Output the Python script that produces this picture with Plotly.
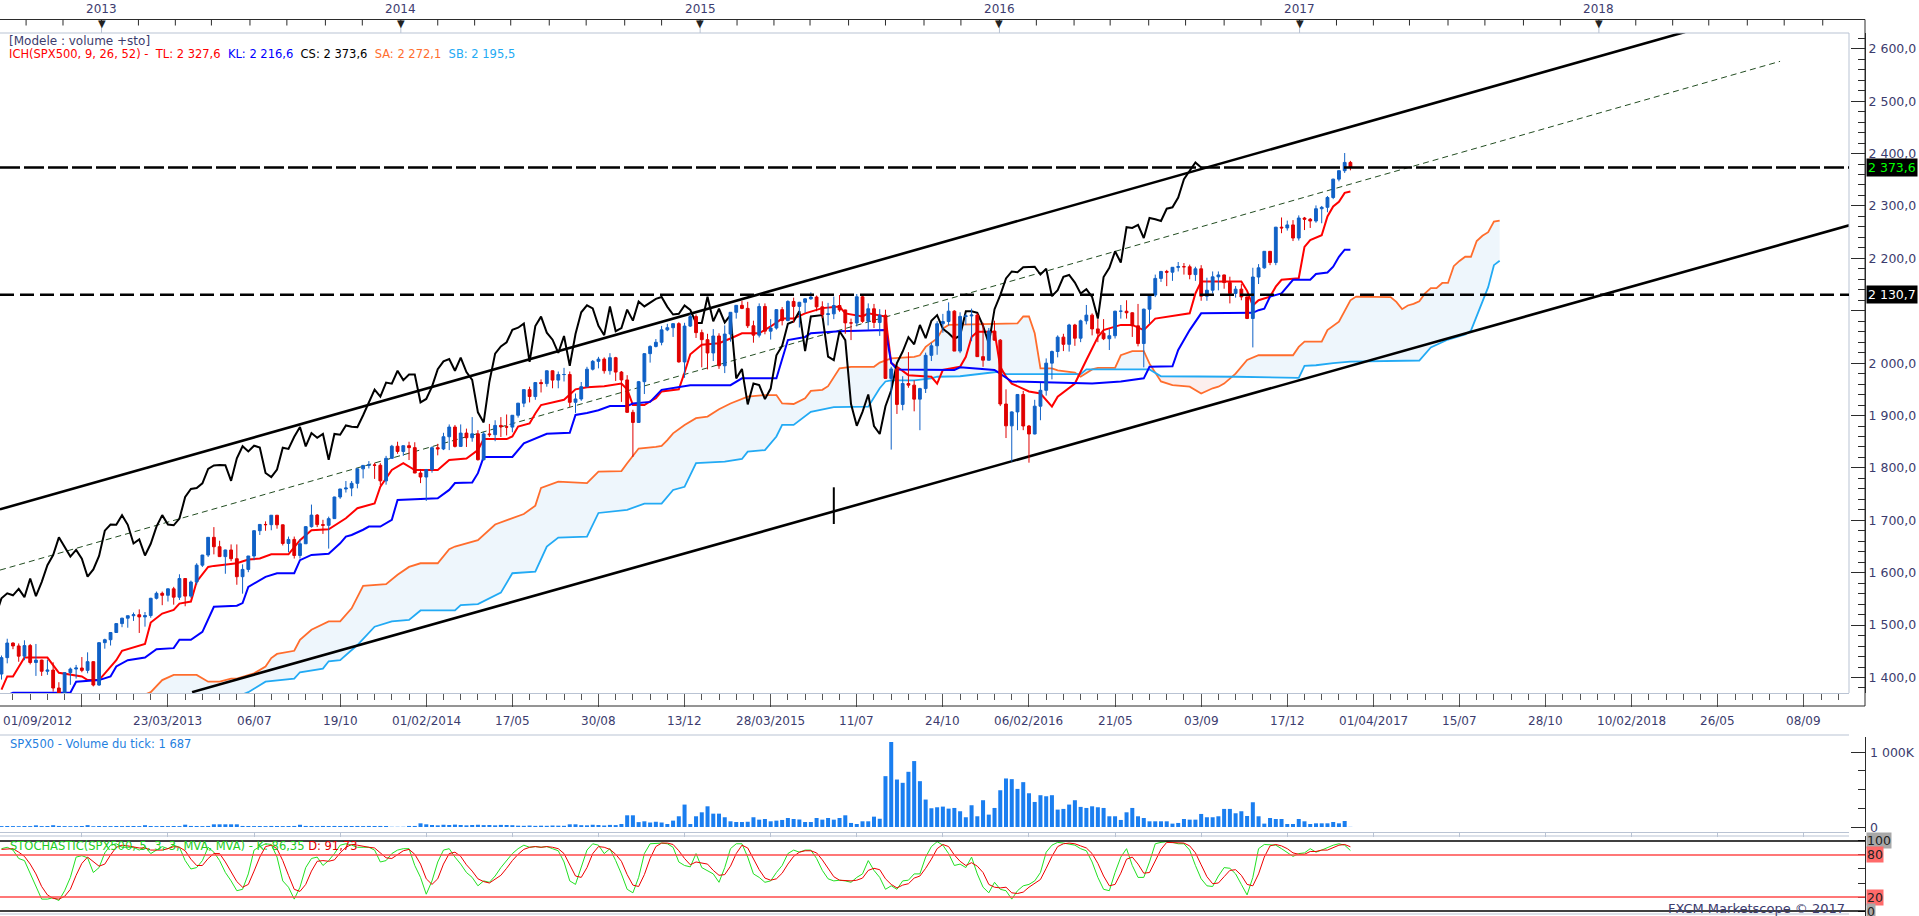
import plotly.graph_objects as go
import pandas as pd

# canvas + calibration (pixels of the 1919x916 screenshot)
W, H = 1919, 916
START = pd.Timestamp("2012-09-01")      # first weekly bar on screen


def wk(w):
    """date of weekly bar number w (may be fractional)"""
    return START + pd.Timedelta(days=7 * w)


def px(x):
    return x / W


def py(y):
    return 1 - y / H


# ─────────────────────────────────────────────
#  DATA  (weekly SPX500)
# ─────────────────────────────────────────────
first_open = 1406.6
closes = [
    1437.9, 1465.8, 1460.2, 1440.7, 1460.9, 1428.6, 1433.2, 1411.9, 1414.2, 1379.9,
    1359.9, 1409.2, 1416.2, 1418.1, 1413.6, 1430.2, 1385.6, 1466.5, 1472.1, 1485.9,
    1502.9, 1513.2, 1517.9, 1519.8, 1515.6, 1518.2, 1551.2, 1560.7, 1556.9, 1569.2,
    1553.3, 1588.9, 1555.3, 1582.2, 1614.4, 1633.7, 1667.5, 1649.6, 1630.7, 1643.4,
    1626.7, 1592.4, 1606.3, 1631.9, 1680.2, 1692.1, 1691.7, 1709.7, 1691.4, 1655.8,
    1663.5, 1632.9, 1655.2, 1687.9, 1709.9, 1691.8, 1690.5, 1703.2, 1744.5, 1759.8,
    1761.6, 1770.6, 1798.2, 1804.8, 1805.8, 1805.1, 1775.3, 1818.3, 1841.4, 1831.4,
    1842.4, 1838.7, 1790.3, 1782.6, 1797.0, 1838.6, 1836.2, 1859.5, 1878.0, 1841.1,
    1866.5, 1857.6, 1865.1, 1815.7, 1864.9, 1863.4, 1881.1, 1878.5, 1877.9, 1900.5,
    1923.6, 1949.4, 1936.2, 1962.9, 1960.9, 1985.4, 1967.6, 1978.2, 1978.3, 1925.2,
    1931.6, 1955.1, 1988.4, 2003.4, 2007.7, 1985.5, 2010.4, 1982.9, 1967.9, 1906.1,
    1886.8, 1964.6, 2018.1, 2031.9, 2039.8, 2063.5, 2067.6, 2075.4, 2002.3, 2070.7,
    2088.8, 2058.2, 2044.8, 2019.4, 2051.8, 1995.0, 2055.5, 2097.0, 2110.3, 2104.5,
    2071.3, 2053.4, 2108.1, 2061.0, 2067.0, 2102.1, 2081.2, 2117.7, 2108.3, 2116.1,
    2122.7, 2126.1, 2107.4, 2092.8, 2094.1, 2110.0, 2101.5, 2076.8, 2076.6, 2126.6,
    2079.7, 2103.8, 2077.6, 2091.5, 1970.9, 1988.9, 1921.2, 1961.1, 1958.0, 1931.3,
    1951.4, 2014.9, 2033.1, 2075.2, 2079.4, 2099.2, 2023.0, 2089.2, 2090.1, 2091.7,
    2012.4, 2005.6, 2061.0, 2043.9, 1922.0, 1880.3, 1906.9, 1940.2, 1880.0, 1864.8,
    1917.8, 1948.1, 2000.0, 2022.2, 2049.6, 2035.9, 2072.8, 2047.6, 2080.7, 2091.6,
    2065.3, 2057.1, 2046.6, 2052.3, 2099.1, 2099.1, 2096.1, 2071.2, 2037.4, 2103.0,
    2129.9, 2161.7, 2175.0, 2173.6, 2182.9, 2184.1, 2183.9, 2169.0, 2180.0, 2127.8,
    2139.2, 2164.7, 2168.3, 2153.7, 2133.0, 2141.2, 2126.4, 2085.2, 2164.4, 2181.9,
    2213.4, 2192.0, 2259.5, 2258.1, 2263.8, 2238.8, 2277.0, 2274.6, 2271.3, 2294.7,
    2297.4, 2316.1, 2351.2, 2367.3, 2383.1, 2373.6,
]
highs = [
    1442, 1474, 1467, 1465, 1471, 1464, 1464, 1434, 1434, 1429,
    1391, 1410, 1419, 1424, 1439, 1448, 1431, 1467, 1474, 1486,
    1503, 1514, 1518, 1524, 1530, 1525, 1552, 1564, 1564, 1570,
    1573, 1597, 1589, 1585, 1618, 1634, 1668, 1687, 1661, 1644,
    1654, 1654, 1616, 1632, 1681, 1693, 1698, 1710, 1710, 1692,
    1669, 1669, 1664, 1689, 1730, 1712, 1701, 1707, 1745, 1760,
    1775, 1775, 1799, 1805, 1813, 1810, 1809, 1823, 1844, 1850,
    1843, 1850, 1849, 1798, 1798, 1841, 1846, 1867, 1883, 1882,
    1883, 1875, 1897, 1872, 1869, 1884, 1891, 1897, 1902, 1901,
    1924, 1950, 1955, 1964, 1969, 1986, 1986, 1984, 1991, 1984,
    1942, 1964, 1993, 2006, 2012, 2011, 2019, 2012, 1985, 1977,
    1911, 1966, 2019, 2034, 2046, 2071, 2075, 2076, 2078, 2077,
    2094, 2093, 2064, 2056, 2065, 2057, 2072, 2097, 2111, 2119,
    2117, 2081, 2114, 2114, 2084, 2103, 2107, 2120, 2125, 2117,
    2124, 2135, 2129, 2118, 2115, 2127, 2130, 2102, 2085, 2132,
    2128, 2114, 2113, 2103, 2102, 1993, 1993, 1975, 2021, 1967,
    1953, 2020, 2039, 2080, 2094, 2116, 2101, 2097, 2094, 2104,
    2095, 2077, 2067, 2081, 2046, 1950, 1908, 1941, 1947, 1882,
    1930, 1962, 2009, 2024, 2053, 2056, 2075, 2075, 2083, 2111,
    2095, 2084, 2084, 2065, 2100, 2111, 2120, 2097, 2113, 2104,
    2132, 2169, 2176, 2178, 2183, 2193, 2191, 2188, 2184, 2187,
    2163, 2175, 2175, 2169, 2165, 2147, 2151, 2127, 2182, 2189,
    2214, 2214, 2260, 2278, 2272, 2273, 2282, 2279, 2277, 2301,
    2300, 2319, 2352, 2368, 2401, 2386,
]
lows = [
    1396, 1427, 1454, 1430, 1433, 1425, 1403, 1403, 1405, 1373,
    1343, 1352, 1386, 1398, 1410, 1408, 1383, 1384, 1455, 1461,
    1485, 1496, 1495, 1508, 1485, 1497, 1514, 1549, 1538, 1545,
    1539, 1548, 1536, 1552, 1577, 1611, 1630, 1635, 1630, 1598,
    1622, 1577, 1560, 1601, 1624, 1672, 1680, 1681, 1684, 1652,
    1639, 1627, 1627, 1655, 1686, 1687, 1674, 1646, 1703, 1741,
    1753, 1746, 1761, 1780, 1799, 1779, 1767, 1768, 1818, 1827,
    1823, 1815, 1790, 1771, 1737, 1791, 1824, 1834, 1834, 1839,
    1840, 1840, 1850, 1814, 1814, 1859, 1851, 1859, 1862, 1868,
    1896, 1916, 1925, 1930, 1944, 1955, 1952, 1952, 1965, 1916,
    1905, 1928, 1954, 1986, 1990, 1980, 1978, 1966, 1926, 1905,
    1821, 1886, 1941, 2001, 2030, 2034, 2061, 2050, 2001, 1972,
    2069, 2048, 1992, 1988, 2004, 1989, 1981, 2041, 2085, 2103,
    2067, 2039, 2049, 2055, 2045, 2064, 2072, 2080, 2077, 2068,
    2096, 2121, 2099, 2086, 2072, 2084, 2098, 2056, 2044, 2070,
    2077, 2063, 2067, 2052, 1970, 1835, 1903, 1910, 1953, 1908,
    1872, 1943, 2004, 2016, 2058, 2072, 2023, 2019, 2073, 2042,
    2012, 1993, 2005, 2043, 1918, 1857, 1812, 1872, 1872, 1810,
    1864, 1891, 1938, 1969, 2011, 2023, 2022, 2033, 2040, 2074,
    2053, 2040, 2044, 2025, 2047, 2085, 2085, 2050, 2032, 1992,
    2075, 2126, 2155, 2147, 2157, 2175, 2169, 2160, 2157, 2119,
    2119, 2133, 2139, 2142, 2114, 2125, 2120, 2084, 2030, 2151,
    2180, 2187, 2187, 2248, 2253, 2233, 2234, 2254, 2258, 2268,
    2267, 2288, 2313, 2347, 2363, 2368,
]
opens = [first_open] + closes[:-1]

# tick volume, thousands
volume_k = [
    12, 13, 12, 11, 13, 12, 22, 12, 13, 24,
    14, 12, 11, 12, 13, 25, 10, 13, 12, 12,
    13, 12, 14, 13, 12, 24, 13, 12, 13, 12,
    13, 12, 31, 14, 13, 12, 14, 36, 36, 36,
    36, 36, 14, 13, 12, 13, 12, 14, 13, 12,
    13, 14, 30, 14, 13, 12, 14, 13, 14, 13,
    14, 13, 14, 12, 14, 13, 14, 13, 3, 3,
    3, 14, 14, 49, 36, 27, 22, 30, 27, 32,
    27, 22, 27, 30, 25, 27, 22, 28, 27, 24,
    18, 16, 20, 15, 18, 16, 20, 18, 16, 36,
    36, 24, 22, 30, 26, 20, 28, 25, 40, 156,
    156, 65, 76, 60, 70, 60, 40, 85, 143, 299,
    40, 143, 196, 276, 178, 178, 130, 76, 67, 67,
    70, 130, 98, 107, 76, 85, 94, 120, 107, 100,
    67, 67, 120, 98, 120, 98, 120, 156, 54, 40,
    76, 76, 138, 110, 678, 1133, 633, 589, 736, 879,
    611, 366, 250, 263, 272, 245, 254, 210, 130, 290,
    143, 357, 165, 254, 490, 647, 638, 508, 598, 450,
    334, 424, 410, 424, 232, 241, 299, 357, 268, 254,
    276, 263, 254, 143, 143, 94, 196, 254, 143, 120,
    76, 76, 76, 76, 45, 54, 107, 98, 98, 174,
    130, 130, 143, 241, 241, 183, 210, 147, 330, 143,
    45, 120, 107, 107, 40, 40, 107, 76, 40, 49,
    49, 49, 67, 49, 80, 1.687,
]

stoch_k = [
    89, 91, 87, 75, 72, 53, 34, 17, 17, 19,
    15, 29, 48, 77, 79, 76, 55, 62, 83, 94,
    96, 91, 91, 91, 87, 92, 82, 87, 92, 89,
    94, 91, 72, 60, 62, 72, 91, 84, 72, 55,
    43, 29, 31, 53, 87, 92, 96, 95, 77, 43,
    34, 17, 34, 62, 75, 77, 65, 72, 82, 94,
    96, 94, 91, 91, 91, 87, 70, 72, 82, 87,
    89, 89, 65, 48, 24, 43, 70, 87, 89, 77,
    67, 55, 48, 36, 43, 41, 50, 62, 72, 82,
    89, 94, 91, 92, 91, 92, 89, 86, 70, 43,
    38, 62, 87, 96, 94, 82, 89, 72, 53, 31,
    26, 48, 82, 96, 97, 97, 96, 91, 70, 65,
    63, 82, 62, 58, 53, 41, 62, 89, 96, 96,
    77, 53, 48, 41, 43, 55, 65, 82, 87, 84,
    87, 87, 75, 58, 46, 43, 44, 43, 41, 48,
    53, 72, 58, 48, 31, 36, 31, 43, 44, 53,
    53, 77, 92, 99, 94, 82, 65, 67, 62, 77,
    53, 34, 26, 41, 31, 29, 17, 29, 36, 38,
    43, 55, 84, 94, 98, 97, 96, 94, 89, 86,
    70, 48, 31, 29, 55, 77, 89, 65, 48, 48,
    70, 96, 98, 99, 98, 96, 96, 87, 65, 46,
    36, 35, 50, 62, 61, 53, 38, 23, 48, 89,
    95, 95, 94, 89, 83, 78, 82, 83, 89, 84,
    87, 91, 94, 96, 94, 86.35,
]
stoch_d = [
    88, 89, 89, 84, 78, 67, 53, 35, 23, 18,
    17, 21, 31, 51, 68, 77, 70, 64, 67, 80,
    91, 94, 93, 91, 90, 90, 87, 87, 87, 89,
    92, 91, 86, 74, 65, 65, 75, 82, 82, 70,
    57, 42, 34, 38, 57, 77, 92, 94, 89, 72,
    51, 31, 28, 38, 57, 71, 72, 71, 73, 83,
    91, 95, 94, 92, 91, 90, 83, 76, 75, 80,
    86, 88, 81, 67, 46, 38, 46, 67, 82, 84,
    78, 66, 57, 46, 42, 40, 45, 51, 61, 72,
    81, 88, 91, 92, 91, 92, 91, 89, 82, 66,
    50, 48, 62, 82, 92, 91, 88, 81, 71, 52,
    37, 35, 52, 75, 92, 97, 97, 95, 86, 75,
    66, 70, 69, 67, 58, 51, 52, 64, 82, 94,
    90, 75, 59, 47, 44, 46, 54, 67, 78, 84,
    86, 86, 83, 73, 60, 49, 44, 43, 43, 44,
    47, 58, 61, 59, 46, 38, 33, 37, 39, 47,
    50, 61, 74, 89, 95, 92, 80, 71, 65, 69,
    64, 55, 38, 34, 33, 34, 26, 25, 27, 34,
    39, 45, 61, 78, 92, 96, 97, 96, 93, 90,
    82, 68, 50, 36, 38, 54, 74, 77, 67, 54,
    55, 71, 88, 98, 98, 98, 97, 93, 83, 66,
    49, 39, 40, 49, 58, 59, 51, 38, 36, 53,
    77, 93, 95, 93, 89, 83, 81, 81, 85, 85,
    87, 87, 91, 94, 95, 91.73,
]

# Ichimoku lines, read as (bar number, value) points
tl_idx = [0, 1, 2, 4, 8, 10, 14, 15, 17, 18, 20, 21, 25, 26, 28, 30, 31, 33, 34, 36,
          37, 41, 43, 45, 47, 50, 52, 54, 57, 60, 62, 65, 66, 68, 70, 72, 76, 78, 81, 83,
          84, 88, 89, 90, 92, 93, 94, 98, 100, 102, 105, 108, 109, 110, 112, 113, 114, 115, 118, 119,
          120, 122, 125, 127, 129, 132, 134, 136, 138, 140, 143, 146, 147, 150, 151, 154, 155, 156, 158, 162,
          163, 164, 167, 168, 169, 170, 173, 174, 175, 176, 179, 181, 183, 184, 187, 189, 191, 192, 195, 197,
          199, 201, 205, 207, 208, 209, 216, 217, 218, 219, 221, 222, 223, 226, 227, 228, 230, 231, 232, 233,
          234, 235]
tl_val = [1377, 1402, 1402, 1438, 1438, 1409, 1402, 1395, 1395, 1408, 1433, 1451, 1464, 1505, 1522, 1529, 1541, 1545, 1583, 1611,
          1613, 1618, 1625, 1627, 1635, 1635, 1662, 1681, 1683, 1704, 1723, 1732, 1764, 1796, 1809, 1796, 1796, 1815, 1818, 1834,
          1855, 1855, 1860, 1879, 1885, 1904, 1920, 1930, 1950, 1954, 1956, 1961, 1950, 1920, 1920, 1927, 1933, 1946, 1950, 1982,
          2017, 2035, 2038, 2047, 2057, 2057, 2070, 2085, 2085, 2095, 2105, 2108, 2095, 2089, 2095, 2089, 2000, 1993, 1977, 1974,
          1961, 1987, 1993, 2012, 2050, 2060, 2060, 1993, 1974, 1961, 1946, 1942, 1917, 1936, 1961, 2006, 2050, 2063, 2073, 2073,
          2063, 2085, 2092, 2095, 2133, 2156, 2156, 2138, 2110, 2120, 2127, 2146, 2159, 2162, 2222, 2235, 2244, 2280, 2299, 2308,
          2325, 2327.6]

kl_idx = [0, 1, 2, 12, 13, 17, 19, 20, 22, 25, 27, 30, 31, 33, 35, 36, 37, 41, 42, 43,
          46, 48, 51, 52, 54, 57, 59, 60, 61, 63, 64, 66, 68, 69, 76, 78, 79, 82, 83, 84,
          89, 91, 93, 95, 99, 100, 102, 104, 106, 109, 110, 113, 115, 120, 127, 129, 135, 136, 137, 140,
          141, 146, 154, 155, 156, 166, 167, 173, 174, 176, 190, 195, 199, 200, 204, 205, 207, 209, 218, 219,
          220, 221, 223, 225, 228, 229, 231, 232, 233, 234, 235]
kl_val = [1350, 1366, 1371, 1371, 1392, 1395, 1402, 1421, 1433, 1438, 1454, 1456, 1472, 1472, 1487, 1510, 1535, 1537, 1542, 1573,
          1592, 1599, 1599, 1624, 1634, 1636, 1656, 1669, 1672, 1682, 1688, 1688, 1701, 1739, 1742, 1758, 1771, 1772, 1790, 1821,
          1821, 1847, 1856, 1865, 1867, 1901, 1905, 1910, 1918, 1918, 1923, 1926, 1949, 1958, 1958, 1971, 1971, 2006, 2044, 2050,
          2057, 2061, 2063, 2001, 1988, 1987, 1992, 1987, 1980, 1965, 1961, 1965, 1971, 1993, 1994, 2025, 2063, 2095, 2096, 2101,
          2104, 2127, 2133, 2159, 2159, 2170, 2173, 2184, 2203, 2216.6, 2216.6]

sa_idx = [20, 26, 28, 30, 34, 36, 38, 40, 41, 44, 46, 47, 48, 51, 52, 54, 57, 59, 61, 63,
          67, 69, 71, 73, 76, 78, 79, 83, 86, 89, 91, 93, 94, 97, 99, 102, 104, 108, 109, 111,
          114, 115, 116, 117, 119, 121, 123, 125, 127, 130, 133, 135, 136, 138, 140, 141, 143, 144, 146, 148,
          152, 153, 155, 159, 160, 161, 163, 164, 165, 172, 174, 177, 178, 179, 180, 181, 183, 184, 187, 188,
          190, 191, 194, 195, 197, 199, 200, 202, 204, 207, 209, 211, 212, 213, 215, 217, 219, 225, 226, 227,
          230, 231, 233, 234, 235, 236, 242, 243, 244, 245, 246, 247, 248, 249, 250, 251, 252, 253, 254, 255,
          256, 257, 258, 259, 260, 261]
sa_val = [1345, 1372, 1395, 1405, 1405, 1392, 1392, 1398, 1398, 1408, 1421, 1437, 1445, 1451, 1472, 1491, 1507, 1507, 1532, 1575,
          1578, 1596, 1611, 1618, 1618, 1645, 1650, 1662, 1692, 1704, 1712, 1728, 1762, 1774, 1773, 1771, 1793, 1794, 1809, 1837,
          1840, 1842, 1853, 1866, 1882, 1895, 1898, 1912, 1923, 1936, 1939, 1939, 1923, 1922, 1933, 1947, 1949, 1956, 1990, 1993,
          1993, 2001, 2009, 2012, 2015, 2031, 2047, 2066, 2073, 2075, 2076, 2076, 2089, 2089, 2057, 1990, 1990, 1986, 1982, 1974,
          1988, 1991, 1991, 2015, 2023, 2023, 1999, 1965, 1958, 1955, 1942, 1952, 1955, 1961, 1980, 2006, 2015, 2015, 2031, 2041,
          2041, 2063, 2079, 2101, 2120, 2127, 2126, 2117, 2103, 2110, 2113, 2118, 2133, 2143, 2143, 2153, 2153, 2185, 2195, 2203,
          2203, 2233, 2243, 2250, 2270, 2272.1]

sb_idx = [38, 43, 46, 51, 52, 56, 57, 59, 62, 65, 68, 71, 73, 79, 80, 83, 87, 89, 93, 95,
          97, 102, 104, 109, 112, 115, 117, 119, 121, 126, 129, 130, 133, 135, 136, 138, 141, 145, 151, 153,
          154, 155, 159, 162, 163, 167, 174, 175, 188, 189, 200, 202, 215, 226, 227, 229, 232, 235, 247, 249,
          252, 255, 256, 258, 259, 260, 261]
sb_val = [1350, 1372, 1392, 1398, 1410, 1417, 1431, 1433, 1462, 1497, 1507, 1510, 1528, 1528, 1538, 1540, 1562, 1599, 1602, 1650,
          1667, 1669, 1714, 1720, 1732, 1732, 1758, 1764, 1809, 1812, 1817, 1831, 1834, 1860, 1882, 1882, 1907, 1916, 1917, 1952,
          1965, 1967, 1967, 1971, 1974, 1975, 1984, 1979, 1979, 1988, 1988, 1975, 1974, 1972, 1995, 1996, 2000, 2003, 2005, 2030,
          2045, 2055, 2062, 2118, 2145, 2187, 2195.5]

bear_cloud = (200, 215)          # stretch where SA sits under SB
chikou_shift = 26

# hand-drawn objects (bar number, price)
channel_upper = ([-0.26, 293.3], [1721, 2632])
channel_lower = ([33.2, 321.9], [1372, 2263])
channel_mid = ([-0.26, 309.85], [1605, 2576])
level_current = 2373.6
level_support = 2130.7
cursor_bar, cursor_lo, cursor_hi = 145, 1693, 1763

# axis text
price_ticks = [1400, 1500, 1600, 1700, 1800, 1900, 2000, 2100, 2200, 2300, 2400, 2500, 2600]
price_tick_text = ["1 400,0", "1 500,0", "1 600,0", "1 700,0", "1 800,0", "1 900,0", "2 000,0",
                   "", "2 200,0", "2 300,0", "2 400,0", "2 500,0", "2 600,0"]
date_label_bars = [0, 29, 44, 59, 74, 89, 104, 119, 134, 149, 164, 179, 194, 209, 224,
                   239, 254, 269, 284, 299, 314]
date_label_text = ["01/09/2012", "23/03/2013", "06/07", "19/10", "01/02/2014", "17/05", "30/08",
                   "13/12", "28/03/2015", "11/07", "24/10", "06/02/2016", "21/05", "03/09",
                   "17/12", "01/04/2017", "15/07", "28/10", "10/02/2018", "26/05", "08/09"]
years = [2013, 2014, 2015, 2016, 2017, 2018]

# ─────────────────────────────────────────────
#  STYLE
# ─────────────────────────────────────────────
FONT = "DejaVu Sans"
TXT = "#3c3c6e"
BORDER = "#b9c3d3"
AXIS = "#2b2b2b"
UP = "#1061c6"
DOWN = "#e00000"
TL_C = "#ff0000"
KL_C = "#0000ff"
SA_C = "#ff6d2d"
SB_C = "#22aaf4"
CLOUD_UP = "#eef6fc"
CLOUD_DN = "#fcefee"
VOL_C = "#1a7ef0"
K_C = "#22e022"
D_C = "#ee0000"
WEEK_MS = 7 * 86400000

bar_dates = [wk(i) for i in range(len(closes))]


def fr(v, nd=1):
    return f"{v:,.{nd}f}".replace(",", " ").replace(".", ",")


fig = go.Figure()

# Kumo fill (base price subplot, drawn under everything)
fig.add_trace(go.Scatter(x=[wk(i) for i in sb_idx], y=sb_val, mode="lines",
                         line=dict(width=0), xaxis="x", yaxis="y", hoverinfo="skip"))
fig.add_trace(go.Scatter(x=[wk(i) for i in sa_idx], y=sa_val, mode="lines",
                         line=dict(width=0), fill="tonexty", fillcolor=CLOUD_UP,
                         xaxis="x", yaxis="y", hoverinfo="skip"))
lo, hi = bear_cloud
sb_seg = [(i, v) for i, v in zip(sb_idx, sb_val) if lo <= i <= hi]
sa_seg = [(i, v) for i, v in zip(sa_idx, sa_val) if lo <= i <= hi]
fig.add_trace(go.Scatter(x=[wk(i) for i, _ in sb_seg], y=[v for _, v in sb_seg], mode="lines",
                         line=dict(width=0), xaxis="x", yaxis="y", hoverinfo="skip"))
fig.add_trace(go.Scatter(x=[wk(i) for i, _ in sa_seg], y=[v for _, v in sa_seg], mode="lines",
                         line=dict(width=0), fill="tonexty", fillcolor=CLOUD_DN,
                         xaxis="x", yaxis="y", hoverinfo="skip"))

# Senkou A / B
fig.add_trace(go.Scatter(x=[wk(i) for i in sa_idx], y=sa_val, mode="lines",
                         line=dict(color=SA_C, width=1.8), xaxis="x", yaxis="y"))
fig.add_trace(go.Scatter(x=[wk(i) for i in sb_idx], y=sb_val, mode="lines",
                         line=dict(color=SB_C, width=1.8), xaxis="x", yaxis="y"))

# channel + mid line
for (ws, vs), style in [
    (channel_upper, dict(color="#000000", width=2.6)),
    (channel_lower, dict(color="#000000", width=2.6)),
    (channel_mid, dict(color="#234d22", width=1, dash="6px,4px")),
]:
    fig.add_trace(go.Scatter(x=[wk(w) for w in ws], y=vs, mode="lines", line=style,
                             xaxis="x", yaxis="y"))

# Tenkan / Kijun
fig.add_trace(go.Scatter(x=[wk(i) for i in tl_idx], y=tl_val, mode="lines",
                         line=dict(color=TL_C, width=2), xaxis="x", yaxis="y"))
fig.add_trace(go.Scatter(x=[wk(i) for i in kl_idx], y=kl_val, mode="lines",
                         line=dict(color=KL_C, width=2), xaxis="x", yaxis="y"))

# Chikou = close drawn 26 bars back
fig.add_trace(go.Scatter(x=[wk(i - chikou_shift) for i in range(len(closes))], y=closes,
                         mode="lines", line=dict(color="#000000", width=2),
                         xaxis="x", yaxis="y"))

# candles on an overlay axis so they sit above the Ichimoku lines
fig.add_trace(go.Candlestick(
    x=bar_dates, open=opens, high=highs, low=lows, close=closes,
    increasing=dict(line=dict(color=UP, width=1), fillcolor=UP),
    decreasing=dict(line=dict(color=DOWN, width=1), fillcolor=DOWN),
    whiskerwidth=0, xaxis="x", yaxis="y4", hoverinfo="skip",
))

# volume
fig.add_trace(go.Bar(x=bar_dates, y=volume_k, marker=dict(color=VOL_C, line=dict(width=0)),
                     xaxis="x2", yaxis="y2", hoverinfo="skip"))

# stochastic
fig.add_trace(go.Scatter(x=bar_dates, y=stoch_k, mode="lines", line=dict(color=K_C, width=1),
                         xaxis="x3", yaxis="y3"))
fig.add_trace(go.Scatter(x=bar_dates, y=stoch_d, mode="lines", line=dict(color=D_C, width=1),
                         xaxis="x3", yaxis="y3"))

# ─────────────────────────────────────────────
#  AXES
# ─────────────────────────────────────────────
x_range = [str(wk(-0.26)), str(wk(321.86))]
x_common = dict(type="date", range=x_range, domain=[0, px(1849)], showgrid=False,
                zeroline=False, showticklabels=False, fixedrange=True)
price_range = [1370.4, 2630.1]
y_common = dict(anchor="free", position=px(1865), side="right", showgrid=False, zeroline=False,
                showline=True, linecolor=AXIS, linewidth=1, ticks="inside", tickcolor=AXIS,
                fixedrange=True, tickfont=dict(family=FONT, size=12.5, color=TXT))

fig.update_layout(
    width=W, height=H, margin=dict(l=0, r=0, t=0, b=0),
    paper_bgcolor="white", plot_bgcolor="white",
    showlegend=False, hovermode=False, dragmode=False, bargap=0.3,
    font=dict(family=FONT, size=12, color=TXT),
    xaxis=dict(**x_common, anchor="y", rangeslider=dict(visible=False),
               showline=True, linecolor=BORDER, ticks="outside", ticklen=13, tickcolor="#555555",
               tick0=str(wk(14)), dtick=15 * WEEK_MS,
               minor=dict(ticks="outside", ticklen=6, tickcolor="#555555",
                          tick0=str(wk(-1)), dtick=3 * WEEK_MS)),
    xaxis2=dict(**x_common, anchor="y2", showline=True, linecolor=BORDER,
                ticks="outside", ticklen=4, tickcolor=BORDER,
                tick0=str(wk(14)), dtick=15 * WEEK_MS),
    xaxis3=dict(**x_common, anchor="y3", showline=False, ticks=""),
    yaxis=dict(**y_common, domain=[py(693), py(33)], range=price_range,
               tickmode="array", tickvals=price_ticks, ticktext=price_tick_text, ticklen=14,
               minor=dict(ticks="inside", ticklen=7, tickcolor=AXIS, dtick=20, tick0=0)),
    yaxis4=dict(overlaying="y", range=price_range, anchor="x", visible=False, fixedrange=True),
    yaxis2=dict(**y_common, domain=[py(832), py(737)], range=[-66.7, 1200],
                tickmode="array", tickvals=[0, 1000], ticktext=["", ""], ticklen=14,
                minor=dict(ticks="inside", ticklen=7, tickcolor=AXIS, dtick=250, tick0=0)),
    yaxis3=dict(**y_common, domain=[py(916), py(836)], range=[-7.1, 107.1],
                tickmode="array", tickvals=[0, 20, 40, 60, 80, 100], ticktext=[""] * 6, ticklen=7),
)

# ─────────────────────────────────────────────
#  SHAPES
# ─────────────────────────────────────────────
shapes = []


def hline_px(y, x0, x1, color, width=1):
    shapes.append(dict(type="line", xref="paper", yref="paper", x0=px(x0), x1=px(x1),
                       y0=py(y), y1=py(y), line=dict(color=color, width=width)))


# frame pieces
hline_px(19.5, 0, 1865, AXIS)           # top date strip
hline_px(33, 0, 1849, BORDER)           # price panel top
hline_px(706, 0, 1865, AXIS)            # bottom of date strip
hline_px(735, 0, 1849, BORDER)
hline_px(836, 0, 1849, BORDER)
hline_px(914, 0, 1849, BORDER)
shapes.append(dict(type="line", xref="paper", yref="paper", x0=px(1849), x1=px(1849),
                   y0=py(693), y1=py(33), line=dict(color=BORDER, width=1)))
shapes.append(dict(type="line", xref="paper", yref="paper", x0=px(1865), x1=px(1865),
                   y0=py(706), y1=py(19.5), line=dict(color=AXIS, width=1)))

# top axis ticks every ~1.5 months
for yr in range(2012, 2019):
    for m, d in [(1, 1), (2, 15), (4, 1), (5, 15), (7, 1), (8, 15), (10, 1), (11, 15)]:
        t = pd.Timestamp(yr, m, d)
        if wk(-0.26) < t < wk(321.86):
            shapes.append(dict(type="line", xref="x", yref="paper", x0=t, x1=t,
                               y0=py(19.5), y1=py(25.5), line=dict(color=AXIS, width=1)))
for yr in years:
    t = pd.Timestamp(yr, 1, 1)
    shapes.append(dict(type="line", xref="x", yref="paper", x0=t, x1=t,
                       y0=py(27), y1=py(33), line=dict(color=BORDER, width=1)))

# horizontal levels
shapes.append(dict(type="line", xref="paper", yref="y", x0=0, x1=px(1849),
                   y0=level_current, y1=level_current,
                   line=dict(color="#000000", width=2.5, dash="20px,4px")))
shapes.append(dict(type="line", xref="paper", yref="y", x0=0, x1=px(1849),
                   y0=level_support, y1=level_support,
                   line=dict(color="#000000", width=2.5, dash="14px,6px")))
# little vertical cursor mark
shapes.append(dict(type="line", xref="x", yref="y", x0=wk(cursor_bar), x1=wk(cursor_bar),
                   y0=cursor_lo, y1=cursor_hi, line=dict(color="#000000", width=2)))

# stochastic guide lines
for lvl, col, wdt in [(100, "#000000", 1.5), (0, "#000000", 1.5), (80, "#ff4a4a", 1.5), (20, "#ff4a4a", 1.5)]:
    shapes.append(dict(type="line", xref="paper", yref="y3", x0=0, x1=px(1865),
                       y0=lvl, y1=lvl, line=dict(color=col, width=wdt)))

fig.update_layout(shapes=shapes)

# ─────────────────────────────────────────────
#  TEXT
# ─────────────────────────────────────────────
ann = []


def text_px(x, y, txt, size=12, color=TXT, xanchor="left", **kw):
    ann.append(dict(xref="paper", yref="paper", x=px(x), y=py(y), text=txt, showarrow=False,
                    xanchor=xanchor, yanchor="middle",
                    font=dict(family=FONT, size=size, color=color), **kw))


for yr in years:
    t = pd.Timestamp(yr, 1, 1)
    ann.append(dict(xref="x", yref="paper", x=t, y=py(9.5), text=str(yr), showarrow=False,
                    xanchor="center", yanchor="middle", font=dict(family=FONT, size=12, color=TXT)))
    ann.append(dict(xref="x", yref="paper", x=t, y=py(23.5), text="▼", showarrow=False,
                    xanchor="center", yanchor="middle", font=dict(family=FONT, size=10, color="#222222")))

for b, lab in zip(date_label_bars, date_label_text):
    if b == 0:
        text_px(1, 721, lab)
    else:
        ann.append(dict(xref="x", yref="paper", x=wk(b), y=py(721), text=lab, showarrow=False,
                        xanchor="center", yanchor="middle",
                        font=dict(family=FONT, size=12, color=TXT)))

text_px(7, 41, "[Modele : volume +sto]", size=12)
header = (f'<span style="color:{TL_C}">ICH(SPX500, 9, 26, 52) -&nbsp; TL: {fr(tl_val[-1])}</span>&nbsp; '
          f'<span style="color:{KL_C}">KL: {fr(kl_val[-1])}</span>&nbsp; '
          f'<span style="color:#000000">CS: {fr(closes[-1])}</span>&nbsp; '
          f'<span style="color:{SA_C}">SA: {fr(sa_val[-1])}</span>&nbsp; '
          f'<span style="color:{SB_C}">SB: {fr(sb_val[-1])}</span>')
text_px(7, 54, header, size=11.5)

text_px(8, 744, f"SPX500 - Volume du tick: {fr(volume_k[-1] * 1000, 0)}", size=11.5, color="#1f7fe0")
stoch_txt = (f'<span style="color:#22cc22">STOCHASTIC(SPX500, 5, 3, 3, MVA, MVA) - K: {fr(stoch_k[-1], 2)}</span>'
             f'&nbsp;<span style="color:#dd0000">D: {fr(stoch_d[-1], 2)}</span>')
text_px(8, 846, stoch_txt, size=11.5)
text_px(1847, 908, "FXCM Marketscope © 2017", size=13, xanchor="right")

# price tags on the right scale
for lvl, fg in [(level_current, "#00ff00"), (level_support, "#ffffff")]:
    ann.append(dict(xref="paper", yref="y", x=px(1866), y=lvl, text=fr(lvl), showarrow=False,
                    xanchor="left", yanchor="middle", bgcolor="#000000", borderpad=1,
                    font=dict(family=FONT, size=12.5, color=fg)))

# volume scale labels
for v, lab in [(1000, "1 000K"), (0, "0")]:
    ann.append(dict(xref="paper", yref="y2", x=px(1868), y=v, text=lab, showarrow=False,
                    xanchor="left", yanchor="middle", font=dict(family=FONT, size=12.5, color=TXT)))

# stochastic scale tags
for v, bg in [(100, "#a8a8a8"), (80, "#ff6a6a"), (20, "#ff6a6a"), (0, "#a8a8a8")]:
    ann.append(dict(xref="paper", yref="y3", x=px(1866), y=v, text=str(v), showarrow=False,
                    xanchor="left", yanchor="middle", bgcolor=bg, borderpad=0,
                    font=dict(family=FONT, size=12.5, color="#222222")))

fig.update_layout(annotations=ann)

fig.write_html("out.html", config={"displayModeBar": False, "staticPlot": True},
               post_script="document.body.style.margin='0px';")
